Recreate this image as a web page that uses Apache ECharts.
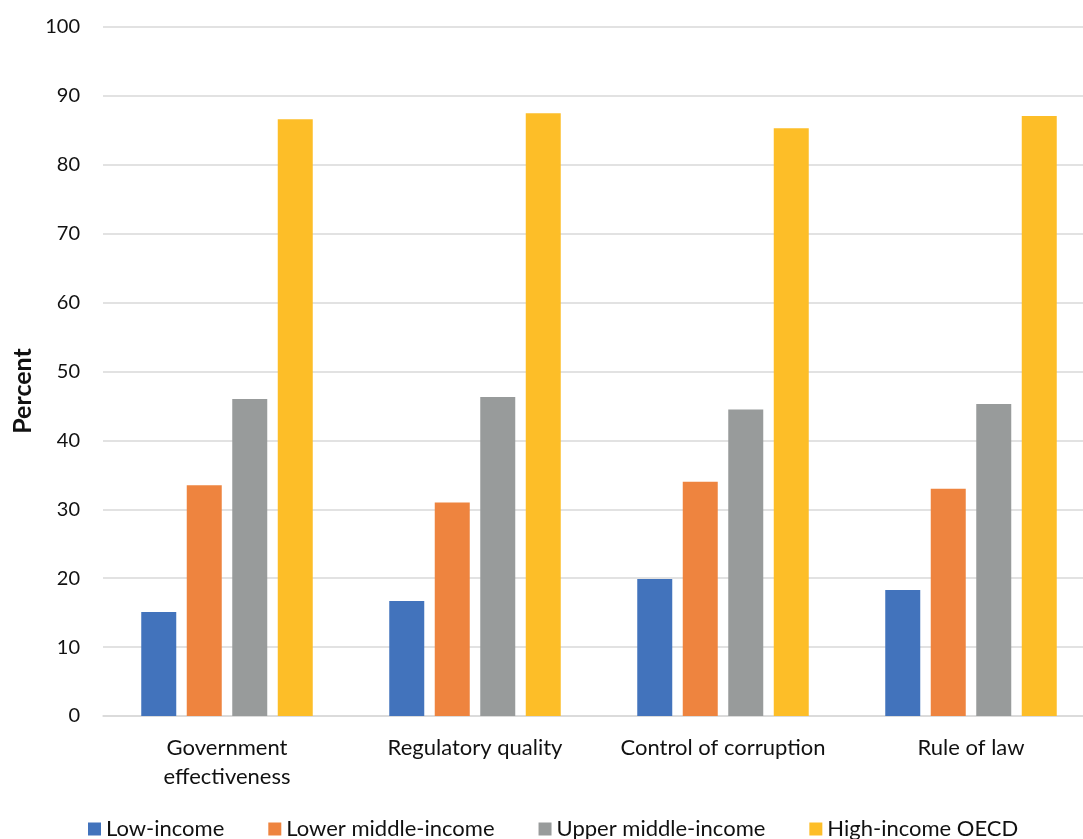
<!DOCTYPE html>
<html>
<head>
<meta charset="utf-8">
<script src="https://cdn.jsdelivr.net/npm/echarts@6/dist/echarts.min.js"></script>
<style>
  html, body { margin: 0; padding: 0; background: #fff; overflow: hidden; }
  #chart { width: 1083px; height: 839px; }
</style>
</head>
<body>
<div id="chart"></div>
<script>
// Governance indicators by income group, percentile rank
const categories = ['Government\neffectiveness', 'Regulatory quality', 'Control of corruption', 'Rule of law'];
const seriesNames = ['Low-income', 'Lower middle-income', 'Upper middle-income', 'High-income OECD'];
const lowIncome = [15.1, 16.7, 19.9, 18.3];
const lowerMiddle = [33.5, 31.0, 34.0, 33.0];
const upperMiddle = [46.0, 46.3, 44.5, 45.3];
const highOECD = [86.6, 87.5, 85.3, 87.1];
const yTitle = 'Percent';
const colors = ['#4273BC', '#EE843F', '#989B9B', '#FDBE28'];

const FONT = 'Lato, "Open Sans", sans-serif';
const values = [lowIncome, lowerMiddle, upperMiddle, highOECD];

const chart = echarts.init(document.getElementById('chart'), null, { renderer: 'canvas' });
chart.setOption({
  animation: false,
  textStyle: { fontFamily: FONT },
  // plot area runs slightly past the right edge of the canvas
  grid: { left: 103, top: 27, width: 992, height: 689, containLabel: false, outerBoundsMode: 'none' },
  legend: {
    top: 813,
    left: 83,
    itemWidth: 13,
    itemHeight: 13,
    itemGap: 44,
    icon: 'rect',
    textStyle: { fontFamily: FONT, fontSize: 22, color: '#111' },
    data: seriesNames
  },
  graphic: [{
    type: 'text',
    x: 10,
    y: 391,
    rotation: Math.PI / 2,
    style: {
      text: yTitle,
      font: 'bold 25px ' + FONT,
      fill: '#111',
      align: 'center',
      verticalAlign: 'top'
    }
  }],
  xAxis: {
    type: 'category',
    data: categories,
    axisLine: { lineStyle: { color: '#d9d9d9', width: 1.5 } },
    axisTick: { show: false },
    axisLabel: { interval: 0, fontFamily: FONT, fontSize: 22, color: '#111', margin: 17, lineHeight: 29 }
  },
  yAxis: {
    type: 'value',
    min: 0,
    max: 100,
    interval: 10,
    axisLine: { show: false },
    axisTick: { show: false },
    axisLabel: { fontFamily: FONT, fontSize: 20, color: '#111', margin: 23 },
    splitLine: { lineStyle: { color: '#d9d9d9', width: 1.5 } }
  },
  series: seriesNames.map((name, i) => ({
    name: name,
    type: 'bar',
    data: values[i],
    barWidth: 35,
    barGap: '30%',
    itemStyle: { color: colors[i] }
  }))
});
</script>
</body>
</html>
